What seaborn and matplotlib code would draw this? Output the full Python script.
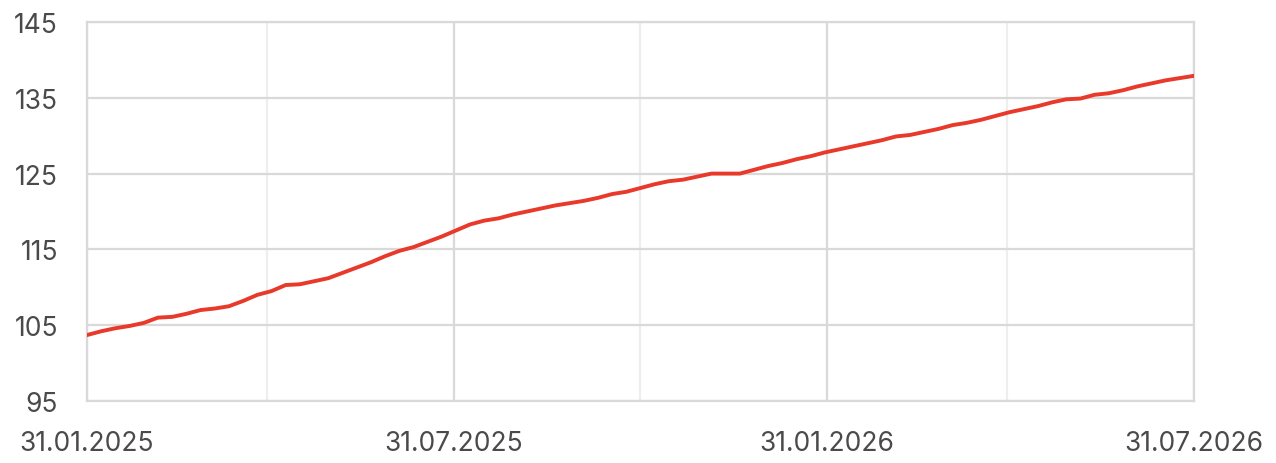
import matplotlib
matplotlib.use("Agg")
import matplotlib.pyplot as plt
import seaborn as sns
import pandas as pd

start_date = "2025-01-31"
values = [
    103.7, 104.2, 104.6, 104.9, 105.3, 106.0, 106.1, 106.5, 107.0, 107.2,
    107.5, 108.2, 109.0, 109.5, 110.3, 110.4, 110.8, 111.2, 111.9, 112.6,
    113.3, 114.1, 114.8, 115.3, 116.0, 116.7, 117.5, 118.3, 118.8, 119.1,
    119.6, 120.0, 120.4, 120.8, 121.1, 121.4, 121.8, 122.3, 122.6, 123.1,
    123.6, 124.0, 124.2, 124.6, 125.0, 125.0, 125.0, 125.5, 126.0, 126.4,
    126.9, 127.3, 127.8, 128.2, 128.6, 129.0, 129.4, 129.9, 130.1, 130.5,
    130.9, 131.4, 131.7, 132.1, 132.6, 133.1, 133.5, 133.9, 134.4, 134.8,
    134.9, 135.4, 135.6, 136.0, 136.5, 136.9, 137.3, 137.6, 137.9,
]
major_ticks = ["2025-01-31", "2025-07-31", "2026-01-31", "2026-07-31"]
major_labels = ["31.01.2025", "31.07.2025", "31.01.2026", "31.07.2026"]
minor_ticks = ["2025-04-30", "2025-10-31", "2026-04-30"]
y_ticks = [95, 105, 115, 125, 135, 145]

dates = pd.date_range(start_date, periods=len(values), freq="7D")
df = pd.DataFrame({"date": dates, "value": values})

sns.set_theme(style="white")
plt.rcParams["font.family"] = ["Inter", "DejaVu Sans"]

fig = plt.figure(figsize=(12.76, 4.64), dpi=100)
ax = fig.add_axes([87 / 1276, 1 - 402 / 464, (1194 - 87) / 1276, (402 - 23) / 464])

sns.lineplot(data=df, x="date", y="value", ax=ax, color="#e8392a", linewidth=2.8, zorder=3)

ax.set_xlim(pd.Timestamp(major_ticks[0]), pd.Timestamp(major_ticks[-1]))
ax.set_ylim(95, 145)
ax.set_yticks(y_ticks)
ax.set_xticks([pd.Timestamp(t) for t in major_ticks])
ax.set_xticklabels(major_labels)
ax.set_xticks([pd.Timestamp(t) for t in minor_ticks], minor=True)

ax.grid(True, which="major", axis="both", color="#d9d9d9", linewidth=1.6)
ax.grid(True, which="minor", axis="x", color="#eeeeee", linewidth=1.6)
ax.set_axisbelow(True)
for s in ax.spines.values():
    s.set_color("#d9d9d9")
    s.set_linewidth(1.6)

ax.tick_params(axis="both", which="both", length=0, labelsize=19, colors="#4a4a4a")
ax.tick_params(axis="y", pad=21)
ax.tick_params(axis="x", pad=21)
ax.set_xlabel("")
ax.set_ylabel("")

fig.savefig("out.png", dpi=100)
